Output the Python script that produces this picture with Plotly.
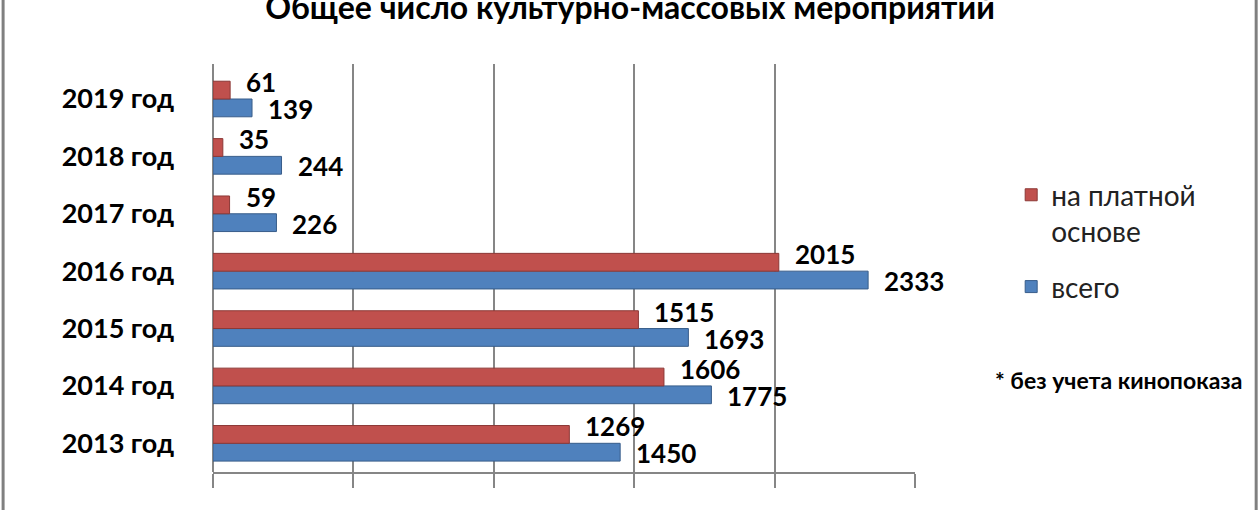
import plotly.graph_objects as go

# data
years = ['2013 год', '2014 год', '2015 год', '2016 год', '2017 год', '2018 год', '2019 год']
paid = [1269, 1606, 1515, 2015, 59, 35, 61]
total = [1450, 1775, 1693, 2333, 226, 244, 139]

red = '#C0504D'
blue = '#4F81BD'
grid = '#868686'
font = 'Lato'

trace_total = go.Bar(
    y=years, x=total, orientation='h', name='всего', legendgroup='total', legendrank=2,
    marker=dict(color=blue, line=dict(color='#385D8A', width=1)),
)
trace_paid = go.Bar(
    y=years, x=paid, orientation='h', name='на платной<br>основе', legendgroup='paid',
    legendrank=1,
    marker=dict(color=red, line=dict(color='#8C3836', width=1)),
)

annotations = []
for yr, v in zip(years, paid):
    annotations.append(dict(x=v, y=yr, text=str(v), showarrow=False,
                            xanchor='left', xshift=14, yshift=17,
                            font=dict(family=font, size=26, color='black', weight='bold')))
for yr, v in zip(years, total):
    annotations.append(dict(x=v, y=yr, text=str(v), showarrow=False,
                            xanchor='left', xshift=14, yshift=-10,
                            font=dict(family=font, size=26, color='black', weight='bold')))

annotations.append(dict(xref='paper', yref='paper', x=1.29, y=0.186, xanchor='center',
                        text='* без учета кинопоказа', showarrow=False,
                        font=dict(family=font, size=23, color='black', weight='bold')))

layout = go.Layout(
    width=1260, height=510,
    margin=dict(l=213, r=345, t=64, b=38),
    paper_bgcolor='white', plot_bgcolor='white',
    barmode='group', bargap=0.38, bargroupgap=0,
    title=dict(text='<b>Общее число культурно-массовых мероприятий</b>',
               x=0.5, xref='container', y=0.984, yref='container', yanchor='middle',
               font=dict(family=font, size=32, color='black')),
    xaxis=dict(range=[0, 2500], dtick=500, showgrid=True, gridcolor=grid, gridwidth=1.5,
               zeroline=True, zerolinecolor=grid, zerolinewidth=1.5,
               showline=True, linecolor=grid, linewidth=1.5,
               ticks='outside', ticklen=14, tickcolor=grid, tickwidth=1.5,
               showticklabels=False),
    yaxis=dict(showgrid=False, showline=False, ticks='', ticklabelstandoff=38,
               tickfont=dict(family=font, size=27, color='black', weight='bold')),
    legend=dict(x=1.137, xanchor='left', y=0.74, yanchor='top', traceorder='grouped',
                valign='top', tracegroupgap=16,
                font=dict(family=font, size=28, color='#222222')),
    annotations=annotations,
    shapes=[
        dict(type='line', xref='paper', yref='paper', x0=-0.299, x1=-0.299, y0=-0.2, y1=1.2,
             line=dict(color='#808080', width=3)),
        dict(type='line', xref='paper', yref='paper', x0=1.486, x1=1.486, y0=-0.2, y1=1.2,
             line=dict(color='#808080', width=3)),
    ],
)

fig = go.Figure(data=[trace_total, trace_paid], layout=layout)
fig.write_html('out.html', config={'displayModeBar': False},
               post_script="document.body.style.margin='0';")
